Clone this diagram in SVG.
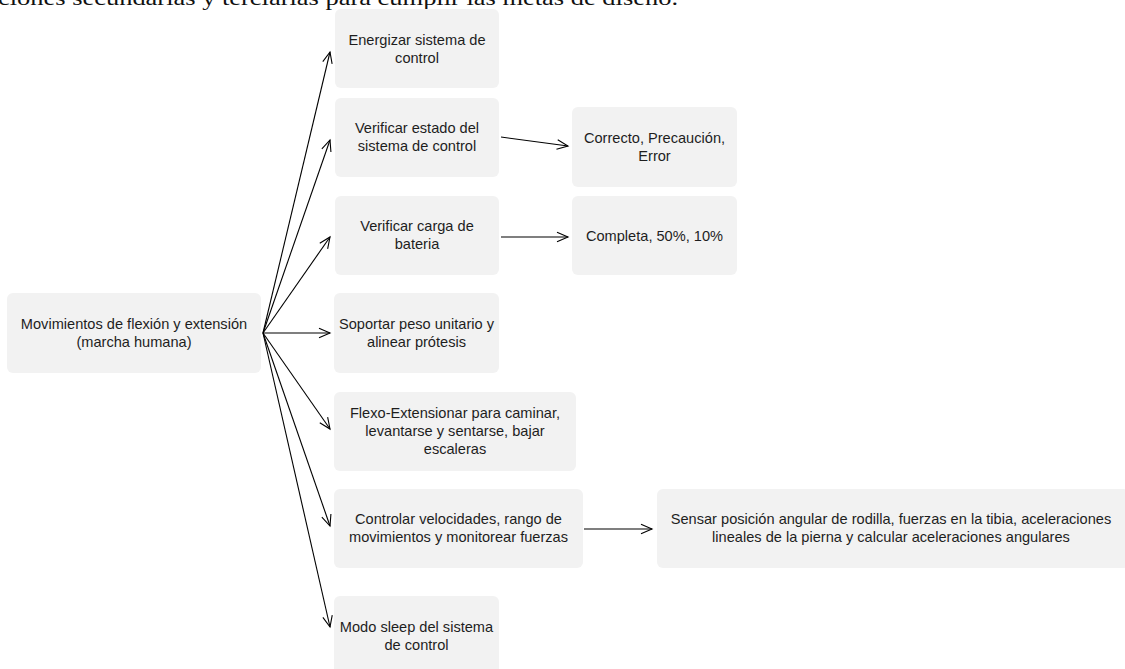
<svg xmlns="http://www.w3.org/2000/svg" width="1125" height="669" viewBox="0 0 1125 669">
<style>
.box{fill:#f2f2f2;stroke:none}
.t{font-family:"Liberation Sans",Arial,sans-serif;font-size:14.6px;fill:#1e1e1e;text-anchor:middle}
.c{stroke:#000;stroke-width:1.1;fill:none;marker-end:url(#ah)}
.hd{font-family:"Liberation Serif","Times New Roman",serif;font-size:21px;fill:#111}
</style>
<defs>
<marker id="ah" markerUnits="userSpaceOnUse" markerWidth="14" markerHeight="14" viewBox="0 0 14 14" refX="12" refY="7" orient="auto">
<path d="M1,2.2 L12,7 L1,11.8" fill="none" stroke="#000" stroke-width="1.1"/>
</marker>
</defs>
<text class="hd" x="-2" y="5" textLength="680" lengthAdjust="spacingAndGlyphs">ciones secundarias y terciarias para cumplir las metas de diseño.</text>
<g id="connectors">
<line class="c" x1="263" y1="333" x2="330" y2="52"/>
<line class="c" x1="263" y1="333" x2="330" y2="140"/>
<line class="c" x1="263" y1="333" x2="330" y2="237"/>
<line class="c" x1="263" y1="333" x2="330" y2="333"/>
<line class="c" x1="263" y1="333" x2="330" y2="429"/>
<line class="c" x1="263" y1="333" x2="330" y2="526"/>
<line class="c" x1="263" y1="333" x2="330" y2="627"/>
<line class="c" x1="501" y1="137" x2="568" y2="146"/>
<line class="c" x1="501" y1="237" x2="568" y2="237"/>
<line class="c" x1="584" y1="529" x2="652" y2="529"/>
</g>
<g id="root">
<rect class="box" x="7" y="293" width="254" height="80" rx="6"/>
<text class="t" x="134" y="328.5">Movimientos de flexión y extensión</text>
<text class="t" x="134" y="346.5">(marcha humana)</text>
</g>
<g id="n1">
<rect class="box" x="335" y="9" width="164" height="79" rx="6"/>
<text class="t" x="417" y="44.5">Energizar sistema de</text>
<text class="t" x="417" y="62.5">control</text>
</g>
<g id="n2">
<rect class="box" x="335" y="98" width="164" height="79" rx="6"/>
<text class="t" x="417" y="133">Verificar estado del</text>
<text class="t" x="417" y="151">sistema de control</text>
</g>
<g id="n3">
<rect class="box" x="335" y="196" width="164" height="79" rx="6"/>
<text class="t" x="417" y="231">Verificar carga de</text>
<text class="t" x="417" y="249">bateria</text>
</g>
<g id="n4">
<rect class="box" x="334" y="293" width="165" height="80" rx="6"/>
<text class="t" x="416.5" y="328.5">Soportar peso unitario y</text>
<text class="t" x="416.5" y="346.5">alinear prótesis</text>
</g>
<g id="n5">
<rect class="box" x="334" y="392" width="242" height="79" rx="6"/>
<text class="t" x="455" y="418">Flexo-Extensionar para caminar,</text>
<text class="t" x="455" y="436">levantarse y sentarse, bajar</text>
<text class="t" x="455" y="454">escaleras</text>
</g>
<g id="n6">
<rect class="box" x="334" y="489" width="249" height="79" rx="6"/>
<text class="t" x="458.5" y="524">Controlar velocidades, rango de</text>
<text class="t" x="458.5" y="542">movimientos y monitorear fuerzas</text>
</g>
<g id="n7">
<rect class="box" x="334" y="596" width="165" height="79" rx="6"/>
<text class="t" x="416.5" y="632">Modo sleep del sistema</text>
<text class="t" x="416.5" y="650">de control</text>
</g>
<g id="n8">
<rect class="box" x="572" y="107" width="165" height="80" rx="6"/>
<text class="t" x="654.5" y="142.5">Correcto, Precaución,</text>
<text class="t" x="654.5" y="160.5">Error</text>
</g>
<g id="n9">
<rect class="box" x="572" y="196" width="165" height="79" rx="6"/>
<text class="t" x="654.5" y="240.5">Completa, 50%, 10%</text>
</g>
<g id="n10">
<rect class="box" x="657" y="489" width="472" height="79" rx="6"/>
<text class="t" x="891" y="524">Sensar posición angular de rodilla, fuerzas en la tibia, aceleraciones</text>
<text class="t" x="891" y="542">lineales de la pierna y calcular aceleraciones angulares</text>
</g>
</svg>
